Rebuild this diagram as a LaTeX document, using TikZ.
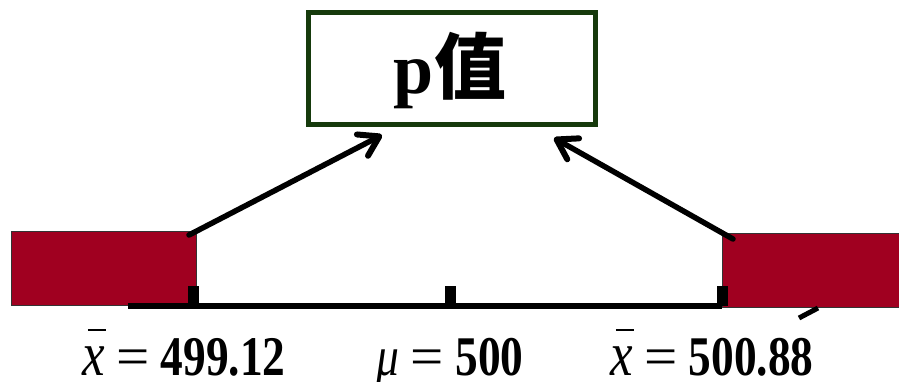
\documentclass[tikz,border=0pt]{standalone}
\usepackage{graphicx}
\usepackage{fontspec}
\setmainfont{Liberation Serif}
\newfontfamily\cjk{Noto Sans CJK SC}
\usetikzlibrary{arrows.meta}
\definecolor{boxgreen}{RGB}{22,58,12}
\definecolor{tailred}{RGB}{160,0,32}
\newcommand{\myxbar}{\leavevmode\rlap{\hspace{0.12em}\rule[0.78em]{0.4em}{0.04em}}{\scalebox{1.12}{\mdseries\itshape x}}}
\newcommand{\myeq}{\ {\mdseries\scalebox{1.3}[1]{=}}\ }
\tikzset{
  tail/.style={draw=black!80, line width=0.8pt, fill=tailred, inner sep=0pt},
  tick/.style={fill=black, inner sep=0pt, minimum width=11pt, minimum height=20pt},
  pointer/.style={line width=5.5pt, line cap=round, -{Straight Barb[length=19pt,width=24pt,line width=6pt,round]}},
  lab/.style={anchor=base, inner sep=0pt, text depth=0pt, font=\bfseries\fontsize{56}{56}\selectfont, xscale=0.81}
}
\begin{document}
\begin{tikzpicture}[x=1pt,y=-1pt]
\useasboundingbox (0,0) rectangle (899,381);
% p-value box
\node[draw=boxgreen, line width=5pt, minimum width=287pt, minimum height=112pt, inner sep=0pt] (pbox) at (452,68.5) {};
\node[inner sep=0pt] (ptext) at (450,70) {\fontsize{72}{72}\selectfont\bfseries p{\cjk\bfseries 值}};
% red tails
\node[tail, minimum width=185pt, minimum height=74pt] (lrect) at (103.5,268) {};
\node[tail, minimum width=180pt, minimum height=74pt] (rrect) at (812,270) {};
% axis
\coordinate (axL) at (128,306);
\coordinate (axR) at (722,306);
\draw[line width=6pt] (axL) -- (axR);
\coordinate (dA) at (799,318);
\coordinate (dB) at (818,308);
\draw[line width=5pt] (dA) -- (dB);
% ticks
\node[tick] (t1) at (193.5,296) {};
\node[tick] (t2) at (450,295.5) {};
\node[tick] (t3) at (722.5,296) {};
% arrows
\coordinate (aL) at (189,235);
\coordinate (aLt) at (382,135);
\coordinate (aR) at (733,239);
\coordinate (aRt) at (554,138);
\draw[pointer] (aL) -- (aLt);
\draw[pointer] (aR) -- (aRt);
% labels
\node[lab] (l1) at (184,375) {\myxbar\myeq 499.12};
\node[lab] (l2) at (450,375) {{\mdseries\itshape μ}\myeq 500};
\node[lab] (l3) at (712,375) {\myxbar\myeq 500.88};
\end{tikzpicture}
\end{document}
